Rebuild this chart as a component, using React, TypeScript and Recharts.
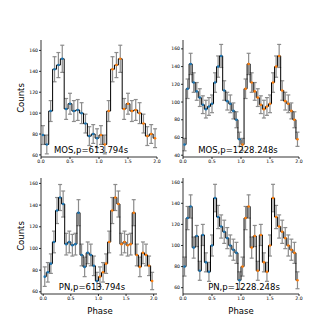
import { ComposedChart, Line, XAxis, YAxis, ErrorBar } from "recharts";

// one cycle of folded counts per light curve (plotted twice, phase 0-2)
const mos613Counts = [79, 70, 102, 142, 146, 152, 104, 109, 102, 103, 100, 90, 78, 80, 76];
const mos613Errors = [9, 9, 10, 12, 12, 13, 10, 10, 10, 10, 10, 9, 9, 9, 9];

const mos1228Counts = [52, 115, 143, 122, 112, 105, 97, 92, 95, 98, 122, 140, 152, 113, 101, 98, 90, 80, 58];
const mos1228Errors = [7, 11, 12, 11, 10, 10, 10, 10, 10, 10, 11, 12, 13, 11, 10, 10, 9, 9, 8];

const pn613Counts = [74, 78, 86, 106, 135, 147, 141, 104, 106, 103, 104, 133, 94, 83, 96, 94, 84, 70];
const pn613Errors = [9, 9, 9, 10, 12, 12, 12, 10, 10, 10, 10, 12, 10, 9, 10, 10, 9, 8];

const pn1228Counts = [80, 126, 137, 98, 109, 76, 110, 84, 75, 100, 145, 127, 118, 113, 107, 100, 96, 93, 67];
const pn1228Errors = [9, 11, 11, 10, 10, 9, 10, 9, 9, 10, 13, 11, 11, 11, 10, 10, 10, 10, 8];

const phaseTicks = [0, 0.5, 1, 1.5, 2];
const countTicks = [60, 80, 100, 120, 140, 160];
const countTicksLow = [40, 60, 80, 100, 120, 140, 160];

const BLUE = "#1f77b4";
const ORANGE = "#ff7f0e";
const FONT = "DejaVu Sans, sans-serif";

type Row = { phase: number; counts: number; err: number };

function foldRows(counts: number[], errors: number[]): Row[] {
  const n = counts.length;
  const rows: Row[] = [];
  for (let cycle = 0; cycle < 2; cycle++) {
    counts.forEach((v, i) => {
      rows.push({ phase: cycle + (i + 0.5) / n, counts: v, err: errors[i] });
    });
  }
  return rows;
}

interface PanelProps {
  left: number;
  top: number;
  width: number;
  height: number;
  rows: Row[];
  xDomain: [number, number];
  yDomain: [number, number];
  yTicks: number[];
  label: string;
  labelX: number;
}

const AXIS_W = 30;
const AXIS_H = 12;

function Panel({ left, top, width, height, rows, xDomain, yDomain, yTicks, label, labelX }: PanelProps) {
  const tickStyle = { fontSize: 4.6, fill: "#000", fontFamily: FONT };
  return (
    <>
      <div style={{ position: "absolute", left: left - AXIS_W, top: top - 5 }}>
        <ComposedChart
          width={width + AXIS_W + 5}
          height={height + 5 + AXIS_H}
          data={rows}
          margin={{ top: 5, right: 5, left: 0, bottom: 0 }}
        >
          <XAxis
            dataKey="phase"
            type="number"
            domain={xDomain}
            allowDataOverflow
            ticks={phaseTicks}
            tickFormatter={(v: number) => v.toFixed(1)}
            tick={tickStyle}
            tickSize={2}
            tickMargin={1}
            height={AXIS_H}
            stroke="#000"
            strokeWidth={0.8}
            interval={0}
          />
          <XAxis xAxisId="top" orientation="top" dataKey="phase" type="number" domain={xDomain} allowDataOverflow tick={false} tickLine={false} height={0} stroke="#000" strokeWidth={0.8} />
          <YAxis
            type="number"
            domain={yDomain}
            allowDataOverflow
            ticks={yTicks}
            tick={tickStyle}
            tickSize={2}
            tickMargin={1}
            width={AXIS_W}
            stroke="#000"
            strokeWidth={0.8}
            interval={0}
          />
          <YAxis yAxisId="right" orientation="right" domain={yDomain} tick={false} tickLine={false} width={0} stroke="#000" strokeWidth={0.8} />
          <Line dataKey="counts" stroke="none" dot={false} isAnimationActive={false}>
            <ErrorBar dataKey="err" width={2} strokeWidth={1.2} stroke="#8c8c8c" direction="y" />
          </Line>
          <Line
            dataKey="counts"
            stroke="none"
            isAnimationActive={false}
            dot={(p: any) => (
              <circle key={`d-${p.index}`} cx={p.cx} cy={p.cy} r={1.3} fill={p.payload.phase < 1 ? BLUE : ORANGE} />
            )}
          />
          <Line dataKey="counts" type="step" stroke="#000" strokeWidth={1} dot={false} isAnimationActive={false} />
        </ComposedChart>
      </div>
      <div
        style={{
          position: "absolute",
          left: labelX - 60,
          width: 120,
          top: top + height - 12,
          textAlign: "center",
          fontSize: 8.5,
          lineHeight: "10px",
          fontFamily: FONT,
        }}
      >
        {label}
      </div>
    </>
  );
}

export default function App() {
  const axisLabel = { position: "absolute" as const, fontSize: 8.5, fontFamily: FONT, lineHeight: "10px" };
  return (
    <div style={{ position: "absolute", left: 0, top: 0, width: 332, height: 332, background: "#fff", overflow: "hidden" }}>
      <Panel left={41} top={40} width={116} height={117} rows={foldRows(mos613Counts, mos613Errors)} xDomain={[0, 2]} yDomain={[58, 170]} yTicks={countTicks} label="MOS,p=613.794s" labelX={91} />
      <Panel left={183} top={40} width={116} height={117} rows={foldRows(mos1228Counts, mos1228Errors)} xDomain={[0, 2]} yDomain={[38, 170]} yTicks={countTicksLow} label="MOS,p=1228.248s" labelX={238} />
      <Panel left={41} top={178} width={116} height={116} rows={foldRows(pn613Counts, pn613Errors)} xDomain={[-0.04, 2.06]} yDomain={[58, 165]} yTicks={countTicks} label="PN,p=613.794s" labelX={92} />
      <Panel left={183} top={178} width={116} height={116} rows={foldRows(pn1228Counts, pn1228Errors)} xDomain={[0, 2]} yDomain={[54, 164]} yTicks={countTicks} label="PN,p=1228.248s" labelX={244} />
      <div style={{ ...axisLabel, left: 21 - 30, top: 98 - 5, width: 60, textAlign: "center", transform: "rotate(-90deg)" }}>Counts</div>
      <div style={{ ...axisLabel, left: 21 - 30, top: 236 - 5, width: 60, textAlign: "center", transform: "rotate(-90deg)" }}>Counts</div>
      <div style={{ ...axisLabel, left: 100 - 30, top: 306, width: 60, textAlign: "center" }}>Phase</div>
      <div style={{ ...axisLabel, left: 241 - 30, top: 306, width: 60, textAlign: "center" }}>Phase</div>
    </div>
  );
}
